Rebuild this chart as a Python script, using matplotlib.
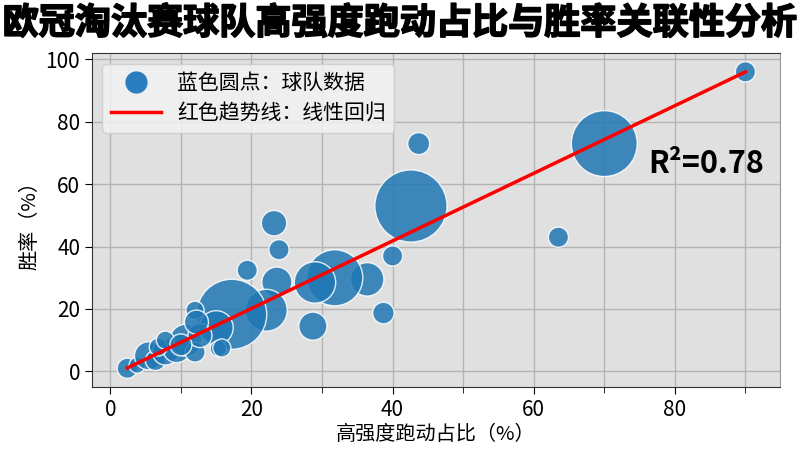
import numpy as np
import matplotlib
matplotlib.use("Agg")
import matplotlib.pyplot as plt
import matplotlib.patheffects as pe
from matplotlib.lines import Line2D
from matplotlib.ticker import MultipleLocator

plt.rcParams['font.family'] = ['Noto Sans CJK SC', 'DejaVu Sans']
plt.rcParams['axes.unicode_minus'] = False

# 高强度跑动占比 (%), 胜率 (%), 气泡大小
run_pct = [90, 70, 43.7, 42.6, 63.5, 40, 38.7, 36.4, 31.8, 29, 28.7,
           23.2, 23.9, 23.6, 19.4, 22.1, 17.2, 15, 12, 2.4, 3.8, 5.4,
           6.4, 7.8, 9.4, 10.7, 12, 12.7, 15.3, 12.2, 6.8, 7.8, 15.8, 10]
win_pct = [96, 73, 73, 53, 43, 37, 18.7, 29.5, 30, 28.5, 14.5,
           47.5, 39, 28.6, 32.4, 19.6, 18.3, 14, 19.6, 1, 2, 5,
           3.5, 6.2, 7.3, 10, 6.2, 11.5, 7.3, 15.8, 7.8, 10, 7.5, 8.5]
bubble = [210, 2250, 250, 2700, 210, 210, 240, 580, 1630, 890, 410,
          335, 210, 470, 210, 910, 2540, 600, 170, 210, 135, 405,
          210, 350, 405, 530, 210, 300, 135, 300, 170, 170, 170, 250]

# 趋势线参数
trend_slope = 1.083
trend_intercept = -1.5
r2_text = "R²=0.78"

x = np.array(run_pct)
y = np.array(win_pct)
xs = np.array([x.min(), x.max()])

fig = plt.figure(figsize=(8, 4.5), dpi=100)
ax = fig.add_axes([0.115, 0.14, 0.86, 0.742])
ax.set_facecolor('#e0e0e0')

ax.scatter(x, y, s=bubble, color='#1f77b4', alpha=0.85,
           edgecolors='white', linewidths=1, zorder=3)
ax.plot(xs, trend_slope * xs + trend_intercept, color='red', lw=2.5, zorder=4)

ax.set_xlim(-2.6, 94.9)
ax.set_ylim(-5, 102)
ax.xaxis.set_major_locator(MultipleLocator(20))
ax.xaxis.set_minor_locator(MultipleLocator(10))
ax.yaxis.set_major_locator(MultipleLocator(20))
ax.grid(True, which='both', axis='x', color='#b4b4b4', lw=1, zorder=0)
ax.grid(True, which='major', axis='y', color='#b4b4b4', lw=1, zorder=0)
ax.set_axisbelow(True)
ax.tick_params(labelsize=15, length=5)
ax.tick_params(which='minor', length=4)
for sp in ax.spines.values():
    sp.set_color('#333333')
ax.spines['right'].set_color('#999999')

ax.set_xlabel('高强度跑动占比（%）', fontsize=14.5, labelpad=2)
ax.set_ylabel('胜率（%）', fontsize=14.5)

ax.text(84.5, 66.5, r2_text, fontsize=22, fontweight='bold',
        ha='center', va='center', zorder=5)

handles = [
    Line2D([], [], marker='o', ls='', color='#2a7dbf', ms=15),
    Line2D([], [], color='red', lw=2.5),
]
ax.legend(handles, ['蓝色圆点：球队数据', '红色趋势线：线性回归'],
          loc='upper left', fontsize=15, handlelength=2.4,
          framealpha=0.85, facecolor='#f2f2f2', edgecolor='#cccccc',
          borderpad=0.4, labelspacing=0.4)

title = fig.text(0.5, 0.948, '欧冠淘汰赛球队高强度跑动占比与胜率关联性分析',
                 fontsize=26, fontweight='black', ha='center', va='center')
title.set_path_effects([pe.withStroke(linewidth=1.2, foreground='black')])

fig.savefig('out.png', dpi=100)
